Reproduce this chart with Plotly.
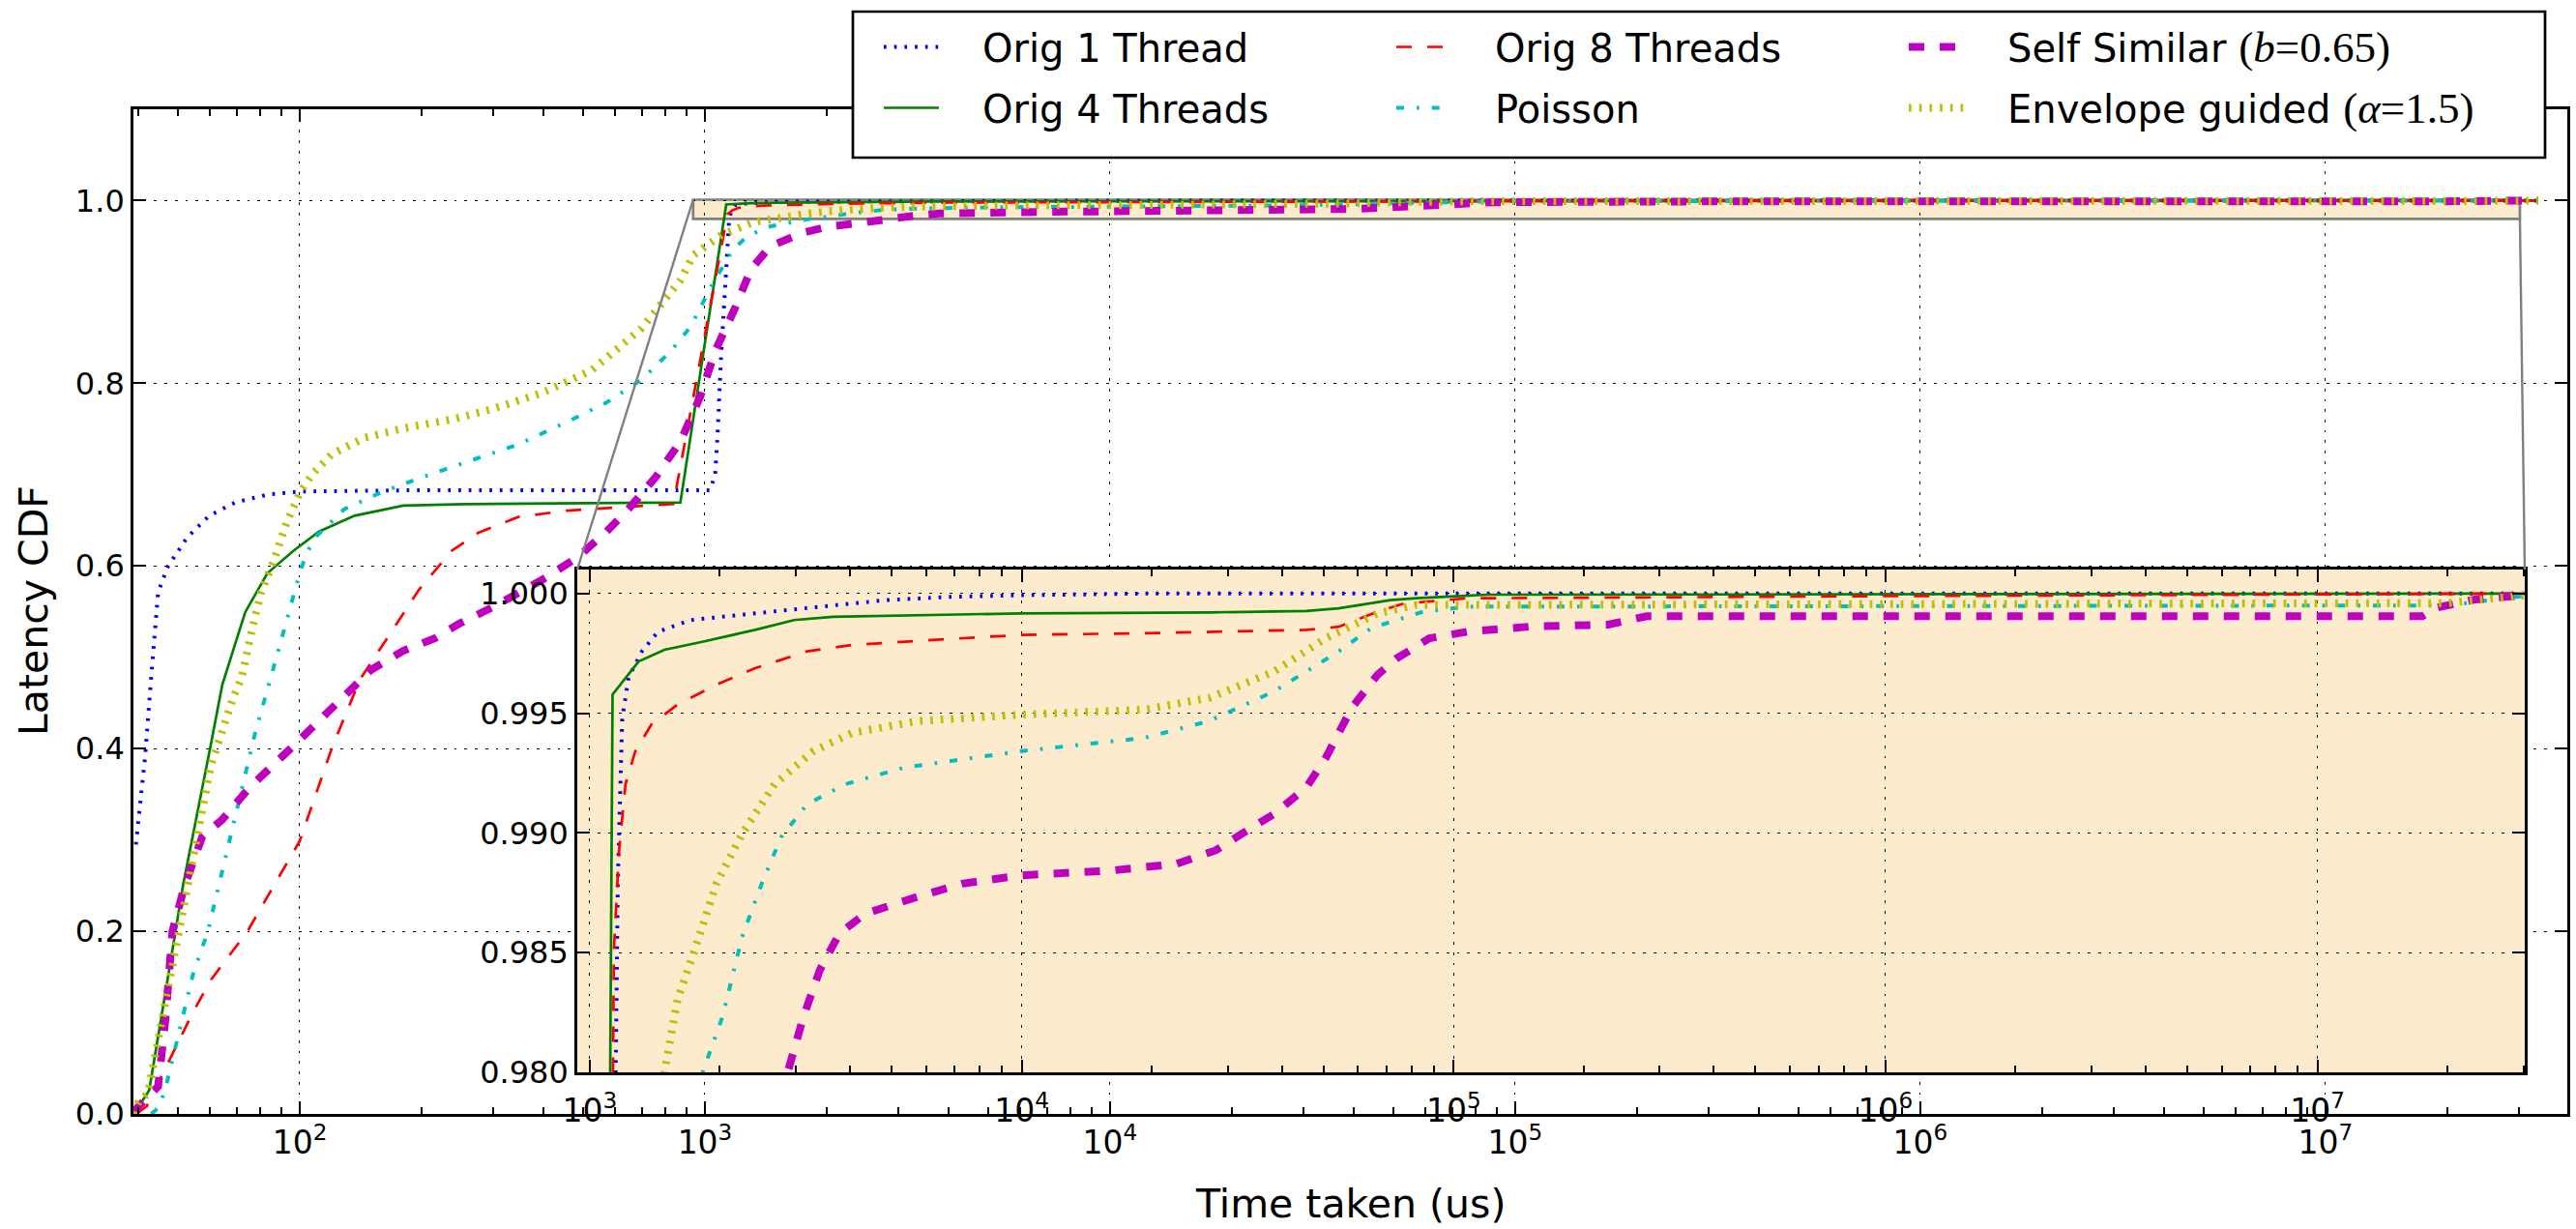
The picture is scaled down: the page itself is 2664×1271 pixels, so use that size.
import math
import plotly.graph_objects as go

W, H = 2664, 1271

# ---------------- data ----------------
orig1_x = [39.4, 41.5, 43, 44.7, 47.2, 52.7, 59.8, 69.3, 83.2, 100, 200, 1030, 1060, 1075, 1095, 1110, 1132, 1148,
           1161, 1177, 1189, 1230, 1320, 1438, 1710, 2415, 3411, 4820, 6808, 1e4, 2e4, 3.35e7]
orig1_y = [0.295, 0.39, 0.479, 0.571, 0.599, 0.631, 0.655, 0.6695, 0.678, 0.6815, 0.683, 0.683, 0.70, 0.744, 0.825, 0.87, 0.941, 0.980,
           0.9879, 0.992, 0.9948, 0.9965, 0.99758, 0.9984, 0.99889, 0.99917, 0.99945, 0.99972, 0.99986, 0.99993, 1.0, 1.0]

orig4_x = [39, 42.5, 47.3, 51.5, 60.3, 64.4, 73.3, 83.2, 96.4, 111.6, 136.5, 180, 255, 870,
           1129, 1297, 1489, 1832, 2415, 2972, 3656, 1e4, 27160, 45600, 54200, 71400, 82000, 1.2e5, 3.35e7]
orig4_y = [0.0, 0.026, 0.15, 0.25, 0.404, 0.470, 0.549, 0.592, 0.6165, 0.6377, 0.655, 0.666, 0.6677, 0.6695,
           0.99578, 0.99716, 0.99765, 0.99799, 0.99848, 0.99889, 0.99903, 0.99917, 0.99921, 0.99927, 0.99938, 0.99972, 0.9998, 0.99995, 1.0]

orig8_x = [39.5, 41.9, 47.2, 54.6, 60.4, 74.2, 100, 120.8, 141, 158, 197, 237, 275, 346, 457, 605, 836,
           1137, 1169, 1210, 1275, 1389, 1596, 1963, 2415, 3184, 4056, 6808, 1e4, 19230, 45600, 54200,
           66700, 76600, 1.08e5, 1e6, 3.35e7]
orig8_y = [0.0, 0.0085, 0.055, 0.112, 0.147, 0.1995, 0.299, 0.404, 0.476, 0.509, 0.574, 0.6165, 0.636, 0.6536, 0.6606, 0.664, 0.6677,
           0.98511, 0.98927, 0.99204, 0.99342, 0.99453, 0.99536, 0.99619, 0.99688, 0.99758, 0.99785, 0.9981, 0.99827, 0.99834, 0.99848, 0.99861,
           0.99924, 0.99958, 0.9998, 0.99989, 1.0]

poisson_x = [43, 45, 46.8, 49.4, 52.2, 54.6, 59.3, 68.3, 77.6, 85.6, 93.8, 100, 103.7, 109.6, 129, 158, 197, 245, 346, 457,
             572, 697, 825, 922, 1042, 1175, 1276, 1422, 1800, 2030, 2252, 2500, 2773, 3184, 3917, 5346, 1e4,
             19230, 27160, 38370, 54200, 64400, 84900, 1.08e5, 2e7, 3.35e7]
poisson_y = [0.0, 0.0074, 0.031, 0.073, 0.1155, 0.154, 0.1995, 0.313, 0.417, 0.484, 0.5477, 0.592, 0.613, 0.632, 0.6624, 0.680, 0.696, 0.710, 0.733, 0.7577,
             0.7789, 0.8037, 0.8355, 0.862, 0.908, 0.947, 0.961, 0.971, 0.9797, 0.98234, 0.98566, 0.98788, 0.98982, 0.9912, 0.99204, 0.99273, 0.99342,
             0.99397, 0.99467, 0.99591, 0.99758, 0.99855, 0.99924, 0.99945, 0.9995, 1.0]

selfsim_x = [39, 39.2, 44.7, 46, 46.8, 47.5, 48.5, 52, 57.5, 64.3, 75.4, 96.8, 128.8, 149.7, 180, 216, 248, 300, 397, 484,
             572, 659, 758, 871, 975, 1062, 1186, 1300, 1450, 1750, 2000, 2400, 2871, 3126, 3409, 3784, 4345,
             5728, 7290, 1e4, 16180, 22860, 28120, 32300, 38370, 45600, 50600, 58100, 66700, 74000, 87900,
             1.08e5, 1.51e5, 2.28e5, 2.8e5, 1.75e7, 1.88e7, 2.32e7, 2.96e7, 3.35e7]
selfsim_y = [0.0, 0.004, 0.03, 0.076, 0.111, 0.15, 0.2, 0.25, 0.304, 0.322, 0.358, 0.4036, 0.458, 0.486, 0.507, 0.521, 0.537, 0.555, 0.585, 0.609,
             0.6377, 0.666, 0.698, 0.7366, 0.786, 0.836, 0.882, 0.925, 0.950, 0.965, 0.971, 0.976, 0.98, 0.98234, 0.98428, 0.9858, 0.98663,
             0.98733, 0.98788, 0.98823, 0.98843, 0.98871, 0.98927, 0.98996, 0.99079, 0.9919, 0.99314, 0.99522, 0.99661, 0.9973, 0.99813,
             0.99841, 0.99862, 0.9987, 0.99905, 0.99905, 0.9994, 0.99975, 0.99995, 1.0]

envelope_x = [39, 40, 42.2, 48, 55, 60.3, 68.4, 72, 76, 80.3, 86.3, 92.9, 100, 107.6, 120, 144, 180, 241, 300, 397, 526,
              697, 871, 935, 1101, 1324, 1489, 1596, 1739, 1963, 2252, 2679, 3296, 4056, 5728, 1e4, 19230,
              27160, 38370, 50600, 66700, 82000, 2e7, 3.35e7]
envelope_y = [0.0, 0.0127, 0.023, 0.154, 0.29, 0.381, 0.455, 0.479, 0.528, 0.571, 0.606, 0.648, 0.680, 0.701, 0.7225, 0.740, 0.7507, 0.761, 0.772, 0.7896, 0.8143,
              0.860, 0.913, 0.94, 0.9626, 0.9767, 0.98, 0.98303, 0.98497, 0.98788, 0.98996, 0.99204, 0.99342, 0.99418, 0.99467, 0.99494, 0.99515,
              0.99564, 0.99674, 0.99813, 0.99917, 0.99952, 0.9996, 1.0]

series_names = ["Orig 1 Thread", "Orig 4 Threads", "Orig 8 Threads", "Poisson",
                "Self Similar", "Envelope guided"]
series_math = ["", "", "", "", "(<i>b</i>=0.65)", "(<i>α</i>=1.5)"]
# legend row each series sits in (matplotlib ncol=3 fills columns first)
legend_rows = ["legend", "legend2", "legend", "legend2", "legend", "legend2"]

xs_all = [orig1_x, orig4_x, orig8_x, poisson_x, selfsim_x, envelope_x]
ys_all = [orig1_y, orig4_y, orig8_y, poisson_y, selfsim_y, envelope_y]
for a, b in zip(xs_all, ys_all):
    assert len(a) == len(b), (len(a), len(b))

styles = [
    dict(color="#0000FF", width=4.0, dash="2.7px,8px"),
    dict(color="#008000", width=2.7, dash="solid"),
    dict(color="#FF0000", width=2.7, dash="16px,16px"),
    dict(color="#00BFBF", width=4.0, dash="8px,13px,2.7px,13px"),
    dict(color="#BF00BF", width=8.0, dash="16px,16px"),
    dict(color="#BFBF00", width=8.0, dash="2.7px,8px"),
]

# ---------------- layout geometry ----------------
MAIN_XR = [1.5895, 7.597]
MAIN_YR = [0.0, 1.1]
INS_XR = [2.971, 7.480]
INS_YR = [0.98, 1.001]
MAIN_DX = [138 / W, 2655 / W]
MAIN_DY = [1 - 1152 / H, 1 - 113 / H]
INS_DX = [597 / W, 2611 / W]
INS_DY = [1 - 1109 / H, 1 - 589 / H]

INSET_BG = "#FDEBCD"
FONT = "DejaVu Sans"
LEG_ITEMW = 57
LEG_COL = 530


def main_px(xv, yv):
    px = MAIN_DX[0] + (math.log10(xv) - MAIN_XR[0]) / (MAIN_XR[1] - MAIN_XR[0]) * (MAIN_DX[1] - MAIN_DX[0])
    py = MAIN_DY[0] + (yv - MAIN_YR[0]) / (MAIN_YR[1] - MAIN_YR[0]) * (MAIN_DY[1] - MAIN_DY[0])
    return px, py


fig = go.Figure()

leg_names = []
for nm, mt in zip(series_names, series_math):
    label = "\u2003" + nm
    if mt:
        label += " <span style=\"font-family:'Liberation Serif';font-size:45px\">" + mt + "</span>"
    leg_names.append(label)

for i in range(6):
    extra = {}
    if series_math[i]:
        extra["legendwidth"] = 620
    fig.add_trace(go.Scatter(
        x=xs_all[i], y=ys_all[i], mode="lines", name=leg_names[i],
        legend=legend_rows[i], line=styles[i], xaxis="x", yaxis="y",
        hoverinfo="skip", **extra))
for i in range(6):
    fig.add_trace(go.Scatter(
        x=xs_all[i], y=ys_all[i], mode="lines", name=leg_names[i],
        line=styles[i], xaxis="x2", yaxis="y2",
        showlegend=False, hoverinfo="skip"))

axis_common = dict(
    showline=True, linecolor="black", linewidth=2.7, mirror="allticks",
    ticks="inside", ticklen=13, tickwidth=1.8, tickcolor="black",
    showgrid=True, gridcolor="black", gridwidth=1.3, griddash="2.7px,8px",
    zeroline=False, automargin=False,
)
minor_log = dict(ticks="inside", ticklen=7, tickwidth=1.6, tickcolor="black",
                 dtick="D1", showgrid=False)

legend_common = dict(orientation="h", x=909 / W, xanchor="left", yanchor="top",
                     bgcolor="rgba(0,0,0,0)", borderwidth=0,
                     font=dict(family=FONT, size=40, color="black"),
                     itemwidth=LEG_ITEMW, entrywidth=LEG_COL - (LEG_ITEMW + 15),
                     entrywidthmode="pixels", traceorder="normal")

fig.update_layout(
    width=W, height=H,
    margin=dict(l=0, r=0, t=0, b=0),
    paper_bgcolor="white", plot_bgcolor="white",
    font=dict(family=FONT, color="black"),
    showlegend=True,
    xaxis=dict(type="log", range=MAIN_XR, domain=MAIN_DX, anchor="y",
               dtick=1, exponentformat="power",
               tickfont=dict(family=FONT, size=26.4, color="black"),
               minor=minor_log, **axis_common),
    yaxis=dict(range=MAIN_YR, domain=MAIN_DY, anchor="x", dtick=0.2, tick0=0,
               tickformat=".1f", tickfont=dict(family=FONT, size=32, color="black"),
               **axis_common),
    xaxis2=dict(type="log", range=INS_XR, domain=INS_DX, anchor="y2",
                dtick=1, exponentformat="power", ticklabelstandoff=10,
                tickfont=dict(family=FONT, size=26.4, color="black"),
                minor=minor_log, **axis_common),
    yaxis2=dict(range=INS_YR, domain=INS_DY, anchor="x2", dtick=0.005, tick0=0.98,
                tickformat=".3f", tickfont=dict(family=FONT, size=32, color="black"),
                **axis_common),
    legend=dict(y=1 - 16 / H, **legend_common),
    legend2=dict(y=1 - 79 / H, **legend_common),
)

# inset background (drawn inside the inset subplot group, above main traces)
fig.add_shape(type="rect", xref="x2", yref="y2",
              x0=10 ** INS_XR[0], x1=10 ** INS_XR[1], y0=INS_YR[0], y1=INS_YR[1],
              fillcolor=INSET_BG, line=dict(width=0), layer="below")
# marked region in the main axes
fig.add_shape(type="rect", xref="x", yref="y",
              x0=10 ** INS_XR[0], x1=10 ** INS_XR[1], y0=INS_YR[0], y1=INS_YR[1],
              fillcolor=INSET_BG, line=dict(width=2.7, color="#808080"), layer="below")
# connector lines
p1 = main_px(10 ** INS_XR[0], INS_YR[1])
p2 = main_px(10 ** INS_XR[1], INS_YR[0])
fig.add_shape(type="line", xref="paper", yref="paper", x0=p1[0], y0=p1[1],
              x1=INS_DX[0], y1=INS_DY[1], line=dict(color="#808080", width=2.4), layer="above")
fig.add_shape(type="line", xref="paper", yref="paper", x0=p2[0], y0=p2[1],
              x1=INS_DX[1], y1=INS_DY[1], line=dict(color="#808080", width=2.4), layer="above")
# legend frame
fig.add_shape(type="rect", xref="paper", yref="paper",
              x0=882 / W, x1=2632 / W, y0=1 - 163 / H, y1=1 - 12 / H,
              fillcolor="white", line=dict(color="black", width=2.7), layer="above")

# axis titles
fig.add_annotation(text="Latency CDF", xref="paper", yref="paper", x=35 / W, y=1 - 632 / H,
                   textangle=-90, showarrow=False, xanchor="center", yanchor="middle",
                   font=dict(family=FONT, size=41, color="black"))
fig.add_annotation(text="Time taken (us)", xref="paper", yref="paper", x=1396 / W, y=1 - 1245 / H,
                   showarrow=False, xanchor="center", yanchor="middle",
                   font=dict(family=FONT, size=41, color="black"))

fig.write_html("out.html", config={"displayModeBar": False},
               post_script="document.body.style.margin='0';document.body.style.overflow='hidden';")
